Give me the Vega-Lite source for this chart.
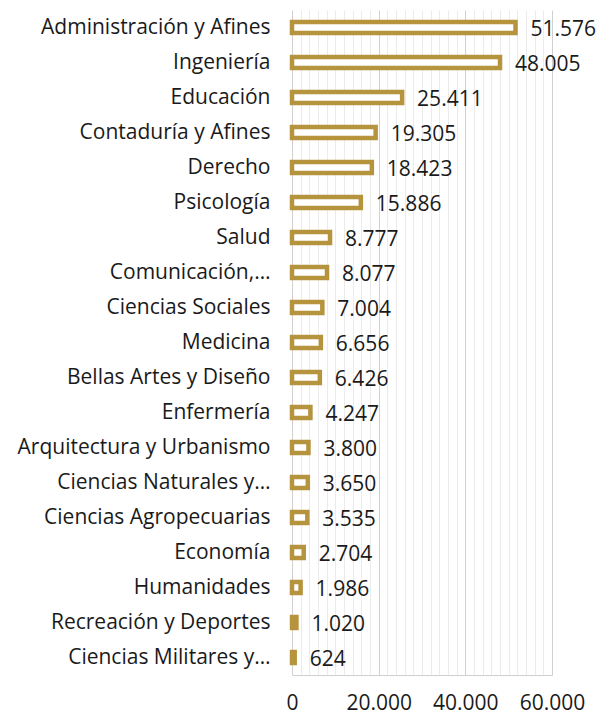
{
  "$schema": "https://vega.github.io/schema/vega-lite/v6.json",
  "autosize": {"type": "none"},
  "padding": {"left": 292, "top": 10, "right": 48, "bottom": 39},
  "width": 260,
  "height": 665,
  "background": "white",
  "config": {
    "locale": {"number": {"decimal": ",", "thousands": ".", "grouping": [3], "currency": ["", " €"]}},
    "view": {"stroke": null},
    "font": "Open Sans"
  },
  "data": {
    "values": [
      {"area": "Administración y Afines", "value": 51576},
      {"area": "Ingeniería", "value": 48005},
      {"area": "Educación", "value": 25411},
      {"area": "Contaduría y Afines", "value": 19305},
      {"area": "Derecho", "value": 18423},
      {"area": "Psicología", "value": 15886},
      {"area": "Salud", "value": 8777},
      {"area": "Comunicación,…", "value": 8077},
      {"area": "Ciencias Sociales", "value": 7004},
      {"area": "Medicina", "value": 6656},
      {"area": "Bellas Artes y Diseño", "value": 6426},
      {"area": "Enfermería", "value": 4247},
      {"area": "Arquitectura y Urbanismo", "value": 3800},
      {"area": "Ciencias Naturales y…", "value": 3650},
      {"area": "Ciencias Agropecuarias", "value": 3535},
      {"area": "Economía", "value": 2704},
      {"area": "Humanidades", "value": 1986},
      {"area": "Recreación y Deportes", "value": 1020},
      {"area": "Ciencias Militares y…", "value": 624}
    ]
  },
  "encoding": {
    "y": {
      "field": "area", "type": "nominal", "sort": "-x", "title": null,
      "axis": {"domain": false, "ticks": false, "labelPadding": 22, "labelFontSize": 21, "labelColor": "#1a1a1a", "labelLimit": 320, "labelFont": "Open Sans"}
    },
    "x": {
      "field": "value", "type": "quantitative", "title": null,
      "scale": {"domain": [0, 60000], "nice": false},
      "axis": {
        "values": [0,2000,4000,6000,8000,10000,12000,14000,16000,18000,20000,22000,24000,26000,28000,30000,32000,34000,36000,38000,40000,42000,44000,46000,48000,50000,52000,54000,56000,58000,60000],
        "labelExpr": "datum.value % 20000 === 0 ? format(datum.value, ',.0f') : ''",
        "gridColor": {"condition": {"test": "datum.value % 20000 === 0", "value": "#d0d0d0"}, "value": "#ebebeb"},
        "gridWidth": 1,
        "ticks": false,
        "domainColor": "#d0d0d0",
        "labelPadding": 17,
        "labelFontSize": 21,
        "labelColor": "#1a1a1a",
        "labelFont": "Open Sans",
        "labelFlush": false
      }
    }
  },
  "layer": [
    {
      "mark": {"type": "bar", "fill": "white", "stroke": "#B5943D", "strokeWidth": 4.5, "size": 11}
    },
    {
      "mark": {"type": "text", "align": "left", "baseline": "middle", "dx": 15, "dy": 2, "fontSize": 21, "color": "#1a1a1a", "font": "Open Sans"},
      "encoding": {"text": {"field": "value", "type": "quantitative", "format": ",.0f"}}
    }
  ]
}
